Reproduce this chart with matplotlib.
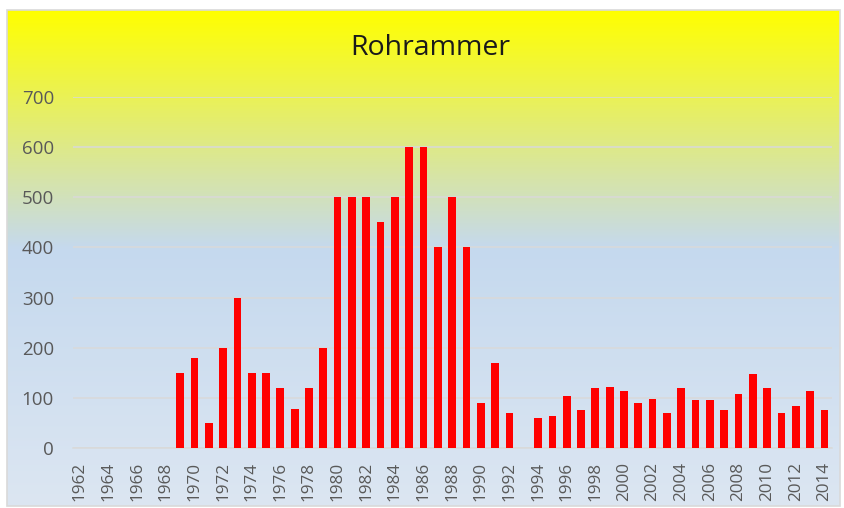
import numpy as np
import matplotlib
matplotlib.use("Agg")
import matplotlib.pyplot as plt
from matplotlib.colors import LinearSegmentedColormap
from matplotlib.patches import Rectangle

# Rohrammer counts per year (0 = no count)
years = [str(y) for y in range(1962, 2015)]
counts = [0, 0, 0, 0, 0, 0, 0,
          150, 180, 50, 200, 300, 150, 150, 120, 78, 120, 200,
          500, 500, 500, 450, 500, 600, 600, 400, 500, 400,
          90, 170, 70, 0, 60, 65, 105, 77, 120, 122, 115, 90,
          98, 70, 120, 97, 97, 77, 108, 148, 120, 70, 84, 115, 77]
yticks = [0, 100, 200, 300, 400, 500, 600, 700]
title = "Rohrammer"

plt.rcParams['font.family'] = ['Open Sans', 'DejaVu Sans']

W, H = 844, 508
fig = plt.figure(figsize=(W / 100, H / 100), dpi=100)

# chart area background: gradient yellow -> light blue
bg = fig.add_axes([7 / W, 1 - 506 / H, 833 / W, 496 / H])
cmap = LinearSegmentedColormap.from_list(
    "bg", [(0.0, "#ffff00"), (0.48, "#c5d9ee"), (1.0, "#dce6f2")])
grad = np.linspace(0, 1, 256).reshape(-1, 1)
bg.imshow(grad, aspect="auto", cmap=cmap, extent=[0, 1, 0, 1], origin="upper")
bg.set_xlim(0, 1)
bg.set_ylim(0, 1)
bg.axis("off")
bg.add_patch(Rectangle((0, 0), 1, 1, transform=bg.transAxes, fill=False,
                       edgecolor="#d9d9d9", linewidth=1.2, clip_on=False))

ax = fig.add_axes([72.7 / W, 1 - 448.3 / H, 758.9 / W, 351.6 / H])
ax.patch.set_alpha(0)
x = np.arange(len(years))
ax.bar(x, counts, width=0.54, color="#ff0000", linewidth=0, zorder=3)

ax.set_xlim(-0.5, len(years) - 0.5)
ax.set_ylim(0, 700)
ax.set_yticks(yticks)
ax.set_yticklabels([str(v) for v in yticks])
ax.set_xticks(x[::2])
ax.set_xticklabels(years[::2], rotation=90)
ax.grid(axis="y", color="#d9d9d9", linewidth=1.1, zorder=0)
for s in ["top", "right", "left"]:
    ax.spines[s].set_visible(False)
ax.spines["bottom"].set_color("#d9d9d9")
ax.spines["bottom"].set_linewidth(1.1)
ax.tick_params(axis="both", length=0, labelcolor="#595959")
ax.tick_params(axis="y", pad=13.5, labelsize=13.5)
ax.tick_params(axis="x", pad=10, labelsize=12.3)

fig.text(430 / W, 1 - 48 / H, title, ha="center", va="center",
         fontsize=20.5, color="#1a1a1a")

fig.savefig("out.png", dpi=100)
